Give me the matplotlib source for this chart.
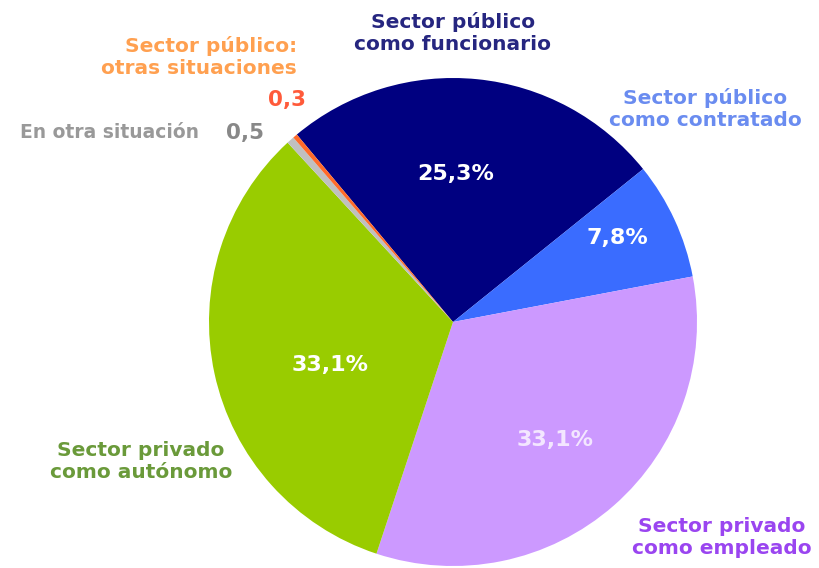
import matplotlib
matplotlib.use("Agg")
import matplotlib.pyplot as plt

# data (clockwise from the top-left edge of the navy slice)
categories = ["Sector público\ncomo funcionario",
              "Sector público\ncomo contratado",
              "Sector privado\ncomo empleado",
              "Sector privado\ncomo autónomo",
              "En otra situación",
              "Sector público:\notras situaciones"]
values = [25.3, 7.8, 33.1, 33.1, 0.5, 0.3]
slice_colors = ["#000080", "#3a6cff", "#cc99ff", "#99cc00", "#c0c0c0", "#ff6a2a"]

W, H = 819, 568

fig = plt.figure(figsize=(W / 100, H / 100), dpi=100)
ax = fig.add_axes([0, 0, 1, 1])

ax.pie(values, colors=slice_colors, startangle=129.8, counterclock=False,
       center=(453, H - 322), radius=244, frame=True,
       wedgeprops=dict(linewidth=0))
ax.set_xlim(0, W)
ax.set_ylim(0, H)
ax.set_aspect("equal")
ax.axis("off")


def txt(x, y, s, weight="bold", ha="center", **kw):
    # y given in image pixels (top = 0)
    ax.text(x, H - y, s, ha=ha, va="center", multialignment=ha,
            fontweight=weight, linespacing=1.2, **kw)


def fmt(v):
    return f"{v:.1f}".replace(".", ",")


# inner percentages
txt(456, 174, fmt(values[0]) + "%", color="white", fontsize=16)
txt(617, 238, fmt(values[1]) + "%", color="white", fontsize=16)
txt(555, 440, fmt(values[2]) + "%", color="#f3e6ff", fontsize=16, weight="semibold")
txt(330, 365, fmt(values[3]) + "%", color="white", fontsize=16)

# outer labels
lab = 14.5
txt(453, 33, categories[0], color="#262680", fontsize=lab)
txt(705, 109, categories[1], color="#6a8cf0", fontsize=lab)
txt(722, 538, categories[2], color="#9a45f0", fontsize=lab)
txt(141, 462, categories[3], color="#6a9a3a", fontsize=lab)
txt(297, 57, categories[5], color="#ffa050", fontsize=lab, ha="right")
txt(287, 100, fmt(values[5]), color="#ff5a3a", fontsize=lab + 1)
txt(109, 133, categories[4], color="#999999", fontsize=lab - 1)
txt(245, 133, fmt(values[4]), color="#888888", fontsize=lab + 1)

fig.savefig("out.png", dpi=100)
